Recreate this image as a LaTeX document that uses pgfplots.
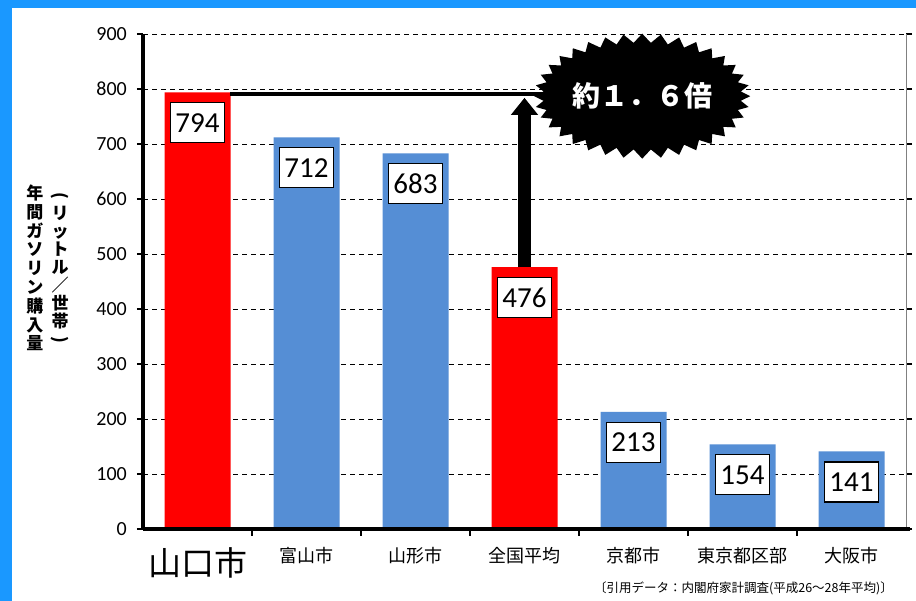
\documentclass[border=0pt]{standalone}
\usepackage{fontspec}
\setmainfont{Carlito}
\newfontfamily\jp{Noto Sans CJK JP}
\usepackage{pgfplots}
\pgfplotsset{compat=1.18}
\usetikzlibrary{shapes.symbols, arrows.meta}
\definecolor{frameblue}{RGB}{26,152,255}
\definecolor{barblue}{RGB}{85,142,213}
\definecolor{barred}{RGB}{255,0,0}
\begin{document}
\begin{tikzpicture}[x=1pt,y=1pt]
\path[use as bounding box] (0,0) rectangle (916,601);
\fill[white] (0,0) rectangle (916,601);
\fill[frameblue] (0,593) rectangle (916,601);
\fill[frameblue] (0,0) rectangle (12,601);
\begin{axis}[
  at={(143pt,72pt)}, anchor=south west,
  scale only axis, width=763pt, height=495pt,
  xmin=-0.5, xmax=6.5, ymin=0, ymax=900,
  ybar, bar width=66pt,
  axis line style={draw=none},
  /pgf/number format/assume math mode=true,
  ytick={0,100,...,900},
  ymajorgrids,
  grid style={black, line width=0.8pt, dash pattern=on 5pt off 4pt},
  tick align=outside, major tick length=6pt,
  ytick style={black, line width=2.5pt},
  yticklabel style={font=\fontsize{20}{20}\selectfont, inner sep=0pt, xshift=-10pt},
  xtick={0,...,6},
  xticklabels={{\fontsize{33}{33}\selectfont 山口市},富山市,山形市,全国平均,京都市,東京都区部,大阪市},
  x tick style={draw=none},
  xticklabel style={font=\jp\fontsize{18}{18}\selectfont, anchor=north, inner sep=0pt, yshift=-12pt},
  nodes near coords,
  every node near coord/.append style={anchor=north, yshift=-10pt, draw=black, line width=1.1pt, fill=white, minimum width=54pt, minimum height=40pt, inner sep=2pt, font=\fontsize{29}{29}\selectfont, text=black},
  clip=false,
]
\addplot[fill=barred, draw=none, bar shift=0pt] coordinates {(0,794) (3,476)};
\addplot[fill=barblue, draw=none, bar shift=0pt] coordinates {(1,712) (2,683) (4,213) (5,154) (6,141)};
% axis lines
\draw[black, line width=4pt] (axis cs:-0.5,0) -- (axis cs:-0.5,900);
\draw[gray, line width=0.8pt] (axis cs:6.5,0) -- (axis cs:6.5,900);
\draw[black, line width=4pt] (axis cs:-0.5,0) -- ([xshift=4pt]axis cs:6.5,0);
\draw[black, line width=2.5pt] (axis cs:0.5,0) -- ([yshift=-7pt]axis cs:0.5,0);
\draw[black, line width=2.5pt] (axis cs:1.5,0) -- ([yshift=-7pt]axis cs:1.5,0);
\draw[black, line width=2.5pt] (axis cs:2.5,0) -- ([yshift=-7pt]axis cs:2.5,0);
\draw[black, line width=2.5pt] (axis cs:3.5,0) -- ([yshift=-7pt]axis cs:3.5,0);
\draw[black, line width=2.5pt] (axis cs:4.5,0) -- ([yshift=-7pt]axis cs:4.5,0);
\draw[black, line width=2.5pt] (axis cs:5.5,0) -- ([yshift=-7pt]axis cs:5.5,0);
% comparison line and arrow
\draw[black, line width=4pt] (axis cs:0.30,791) -- (axis cs:3.8,791);
\draw[black, line width=13pt, -{Triangle[width=26pt,length=17pt]}] (axis cs:3,476) -- (axis cs:3,784);
\node[starburst, fill=black, draw=none, starburst points=36, starburst point height=9pt, random starburst=0, minimum width=205pt, minimum height=125pt, inner sep=0pt, text=white, font=\jp\bfseries\fontsize{28}{28}\selectfont] at (axis cs:4.08,787) {約１．６倍};
\end{axis}
\node[font=\jp\bfseries\fontsize{17}{18.8}\selectfont, align=center, inner sep=0pt] at (35,333) {年\\間\\ガ\\ソ\\リ\\ン\\購\\入\\量};
\node[font=\jp\bfseries\fontsize{17}{18}\selectfont, align=center, inner sep=0pt] at (60,332) {\rotatebox[origin=c]{-90}{(}\\リ\\ッ\\ト\\ル\\／\\世\\帯\\\rotatebox[origin=c]{-90}{)}};
\node[font=\jp\fontsize{12.5}{13}\selectfont, anchor=east, inner sep=0pt] at (893,13) {〔引用データ：内閣府家計調査(平成26～28年平均)〕};
\end{tikzpicture}
\end{document}
